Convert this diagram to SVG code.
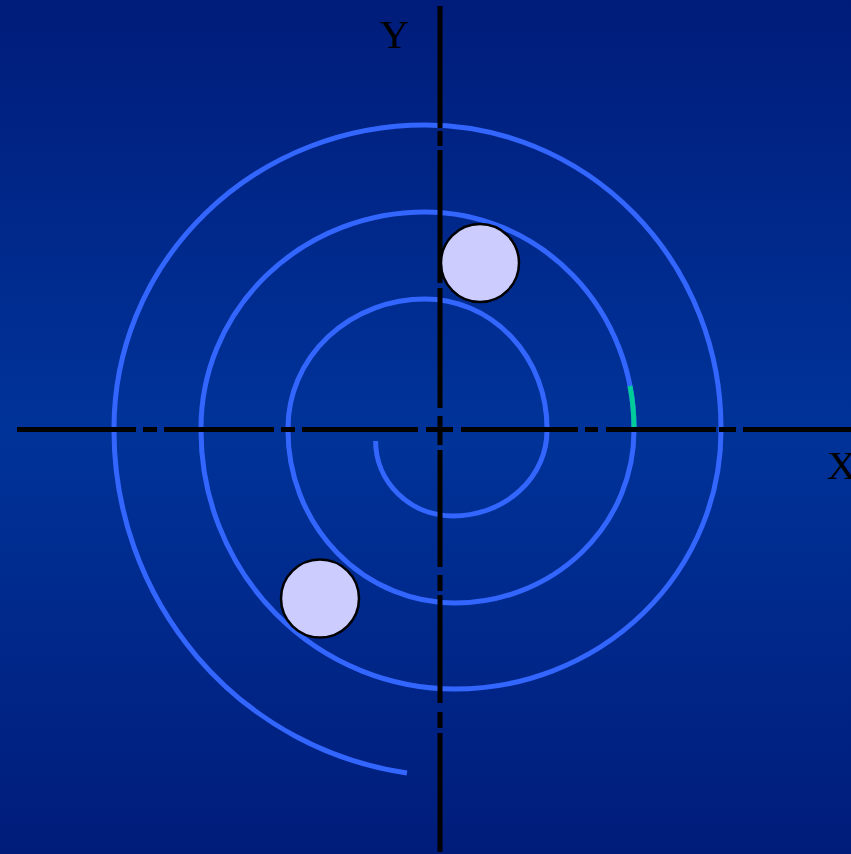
<svg xmlns="http://www.w3.org/2000/svg" width="851" height="854" viewBox="0 0 851 854">
  <defs>
    <linearGradient id="bg" x1="0" y1="0" x2="0" y2="1">
      <stop offset="0" stop-color="#001c7a"/>
      <stop offset="0.5" stop-color="#003399"/>
      <stop offset="1" stop-color="#001c7a"/>
    </linearGradient>
  </defs>
  <style>
    .axis { fill: none; stroke: #000000; stroke-width: 5; stroke-linecap: butt; }
    .spiral { fill: none; stroke: #3366ff; stroke-width: 5; stroke-linejoin: round; }
    .mark { fill: none; stroke: #00cc99; stroke-width: 5; }
    .ball { fill: #ccccff; stroke: #000000; stroke-width: 2.5; }
    .lbl { font-family: "Liberation Serif", "Times New Roman", serif; font-size: 41px; fill: #000000; }
  </style>
  <rect x="0" y="0" width="851" height="854" fill="url(#bg)"/>
  <g id="spiral">
    <path class="spiral" d="M 375.6 441 A 77.5 75 0 0 0 453 516 A 94 85.5 0 0 0 547 430.5 L 547 428 A 122 129 0 0 0 425 299 A 137 129 0 0 0 288 428 L 288 430.5 A 167 172.5 0 0 0 455 603 A 179 172.5 0 0 0 634 430.5 L 634 428 A 209 216 0 0 0 425 212 A 224 216 0 0 0 201 428 L 201 430.5 A 254 258.5 0 0 0 455 689 A 266 258.5 0 0 0 721 430.5 L 721 428 A 296 303 0 0 0 425 125 A 311 303 0 0 0 114 428 L 114 430.5 A 341 346 0 0 0 407 773"/>
    <path class="mark" d="M 634 427 A 209 216 0 0 0 630 386"/>
  </g>
  <g id="connectors">
    <path id="x-axis" class="axis" d="M 17 429.5 H 136 M 143 429.5 H 157 M 164 429.5 H 274 M 281 429.5 H 295 M 302 429.5 H 418 M 426 429.5 H 453 M 461 429.5 H 578 M 585 429.5 H 598 M 606 429.5 H 716 M 719 429.5 H 736 M 743 429.5 H 851"/>
    <path id="y-axis" class="axis" d="M 440 6 V 128 M 440 131 V 146 M 440 150 V 283 M 440 288 V 408 M 440 416 V 445 M 440 450 V 567 M 440 575 V 591 M 440 595 V 703 M 440 712 V 728 M 440 733 V 852"/>
  </g>
  <g id="ball-1">
    <circle class="ball" cx="480" cy="263" r="39"/>
  </g>
  <g id="ball-2">
    <circle class="ball" cx="320" cy="598.5" r="39"/>
  </g>
  <g id="label-y">
    <text class="lbl" x="394.5" y="48" text-anchor="middle">Y</text>
  </g>
  <g id="label-x">
    <text class="lbl" x="827" y="479">X</text>
  </g>
</svg>
